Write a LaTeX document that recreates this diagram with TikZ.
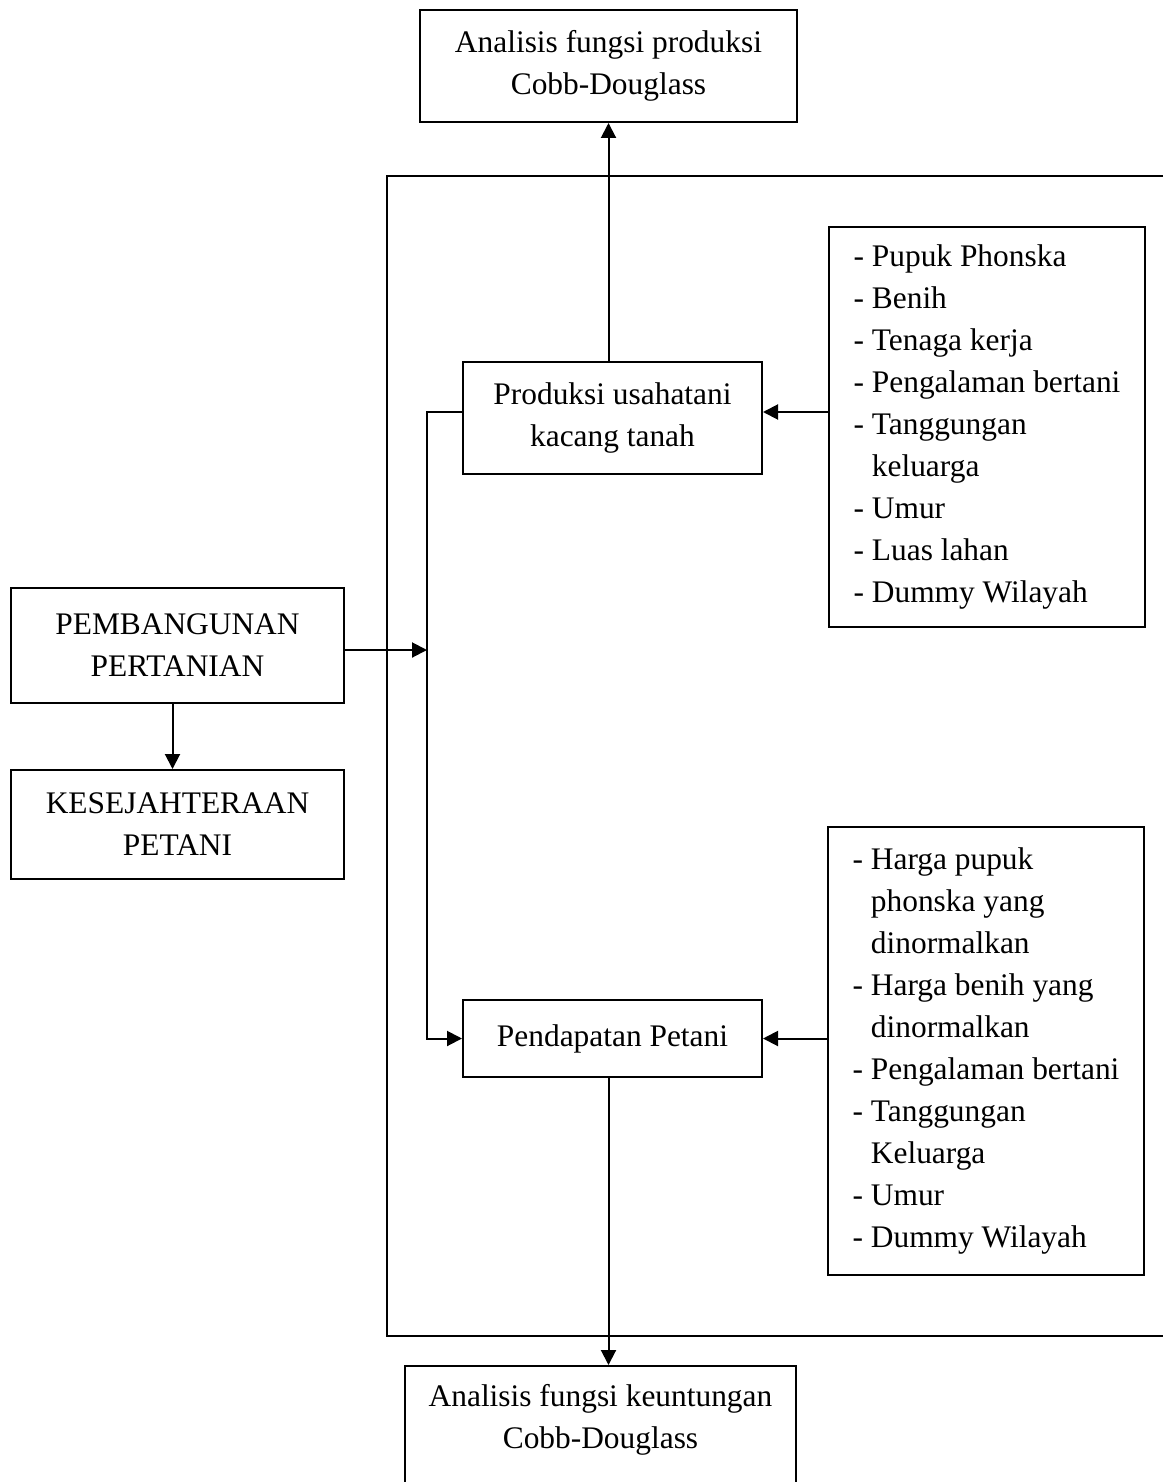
\documentclass[tikz,border=0pt]{standalone}
\usepackage{fontspec}
\setmainfont{Liberation Serif}
\usetikzlibrary{positioning,arrows.meta}

\begin{document}
\begin{tikzpicture}[x=1pt,y=-1pt,
    kotak/.style={draw, line width=2pt, align=center, inner sep=0pt,
                  font=\fontsize{31.4}{42}\selectfont},
    daftar/.style={kotak, align=left},
    garis/.style={line width=2pt},
    panah/.style={garis, -{Triangle[length=15pt,width=15pt]}}]
  \useasboundingbox (0,0) rectangle (1163,1482);

  \node [kotak, minimum width=377pt, minimum height=112pt] (atas) at (608.5,66) {Analisis fungsi produksi\\Cobb-Douglass};
  \node [kotak, minimum width=299pt, minimum height=112pt] (produksi) at (612.5,418) {Produksi usahatani\\kacang tanah};
  \node [kotak, minimum width=299pt, minimum height=77pt] (pendapatan) at (612.5,1038.5) {Pendapatan Petani};
  \node [kotak, minimum width=333pt, minimum height=115pt] (pembangunan) at (177.5,645.5) {PEMBANGUNAN\\PERTANIAN};
  \node [kotak, minimum width=333pt, minimum height=109pt] [below=65pt of pembangunan] (sejahtera) {KESEJAHTERAAN\\PETANI};
  \node [kotak, minimum width=391pt, anchor=north, text height=82pt, text depth=60pt] (bawah) at (600.5,1365) {Analisis fungsi keuntungan\\Cobb-Douglass};

  \node [daftar, minimum width=316pt, minimum height=400pt] (faktor1) at (987,427)
    {- Pupuk Phonska\\- Benih\\- Tenaga kerja\\- Pengalaman bertani\\- Tanggungan\\\phantom{- }keluarga\\- Umur\\- Luas lahan\\- Dummy Wilayah};
  \node [daftar, minimum width=316pt, minimum height=448pt] (faktor2) at (986,1051)
    {- Harga pupuk\\\phantom{- }phonska yang\\\phantom{- }dinormalkan\\- Harga benih yang\\\phantom{- }dinormalkan\\- Pengalaman bertani\\- Tanggungan\\\phantom{- }Keluarga\\- Umur\\- Dummy Wilayah};

  % bingkai terbuka di kanan
  \coordinate (bingkaiA) at (1163,176);
  \coordinate (bingkaiB) at (387,1336);
  \coordinate (bingkaiC) at (1163,1336);
  \draw [garis] (bingkaiA) -| (bingkaiB) -- (bingkaiC);

  \coordinate (cabangA) at (427,412);
  \coordinate (cabangB) at (427,650);

  \draw [panah] (produksi.north -| atas.south) -- (atas.south);
  \draw [panah] (pendapatan.south -| atas.south) -- (bawah.north -| atas.south);
  \draw [panah] (produksi.west |- cabangA) -- (cabangA) |- (pendapatan.west);
  \draw [panah] (pembangunan.east |- cabangB) -- (cabangB);
  \draw [panah] (faktor1.west |- cabangA) -- (produksi.east |- cabangA);
  \draw [panah] (faktor2.west |- pendapatan.east) -- (pendapatan.east);
  \draw [panah] ([xshift=-5pt]pembangunan.south) -- ([xshift=-5pt]sejahtera.north);
\end{tikzpicture}
\end{document}
